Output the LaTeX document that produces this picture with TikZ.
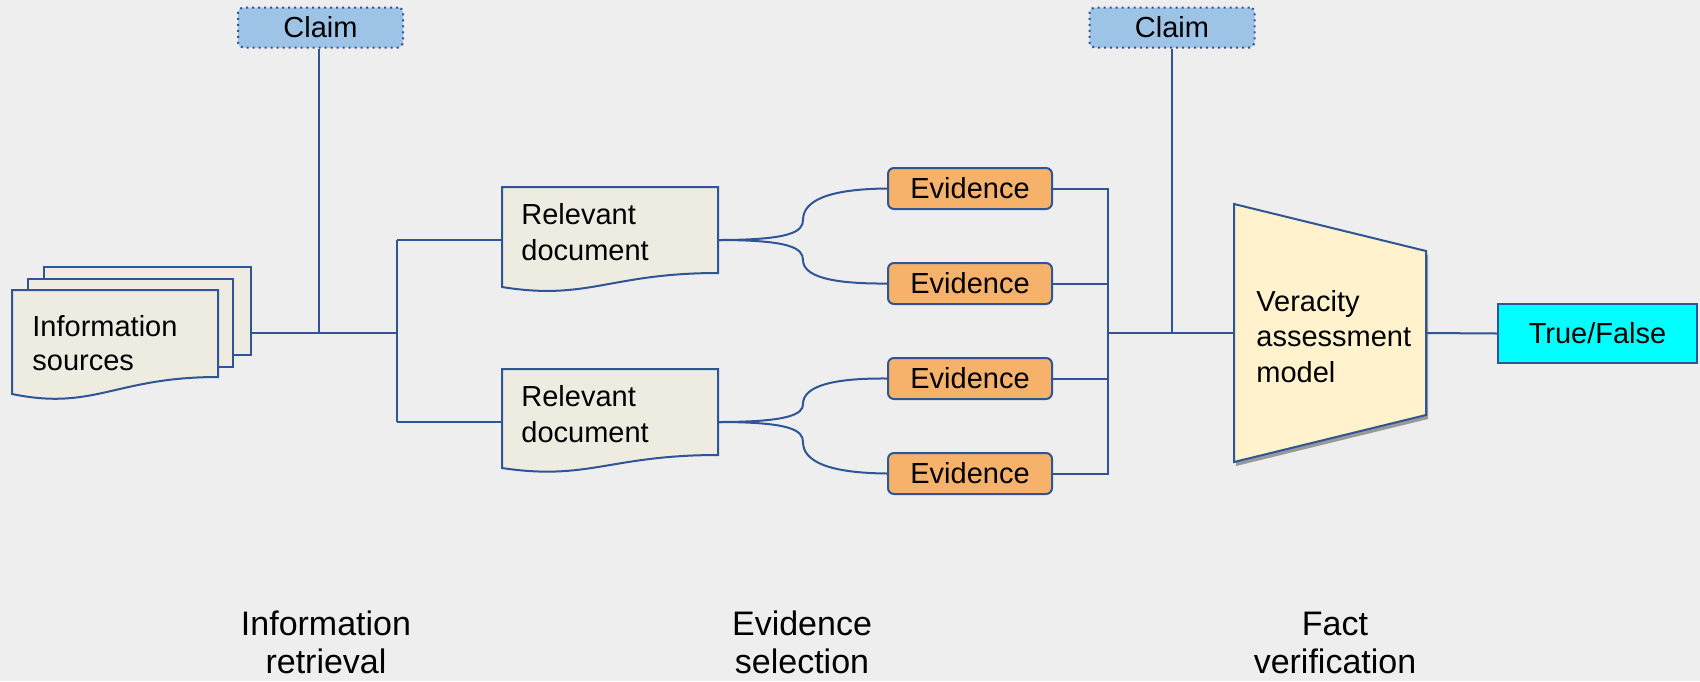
\documentclass[tikz,border=0pt]{standalone}
\usepackage{fontspec}
\setmainfont{Liberation Sans}
\definecolor{bg}{HTML}{EEEEEE}
\definecolor{ln}{HTML}{2F5597}
\definecolor{docfill}{HTML}{EEECE1}
\definecolor{claimfill}{HTML}{9DC3E6}
\definecolor{evfill}{HTML}{F6B26B}
\definecolor{trapfill}{HTML}{FFF2CC}
\definecolor{tffill}{HTML}{00FFFF}
\tikzset{
  conn/.style={draw=ln, line width=1pt},
  shapeline/.style={draw=ln, line width=1pt},
  innertext/.style={font=\fontsize{14.5}{17.5}\selectfont, inner sep=0pt},
  claimbox/.style={shapeline, dotted, fill=claimfill, rounded corners=2.5pt, minimum width=82.5pt, minimum height=20pt, innertext},
  evbox/.style={shapeline, fill=evfill, rounded corners=3pt, minimum width=82pt, minimum height=20.5pt, innertext},
  tfbox/.style={shapeline, fill=tffill, minimum width=99.5pt, minimum height=29.5pt, innertext},
  stagelabel/.style={font=\fontsize{17}{19}\selectfont, align=center, inner sep=0pt},
}
\newcommand{\docshape}[5]{% x1 x2 top yr yl
  \path[shapeline, fill=docfill] (#1,#3) -- (#2,#3) -- (#2,#4)
    .. controls ({#1+0.5*(#2-#1)},#4) and ({#1+0.4*(#2-#1)},{#5+(#5-#4)}) .. (#1,#5) -- cycle;}
\begin{document}
\begin{tikzpicture}[x=0.5pt,y=-0.5pt]
\fill[bg] (0,0) rectangle (1700,681);
\useasboundingbox (0,0) rectangle (1700,681);

% Information sources (stack)
\path[shapeline, fill=docfill] (44,267) rectangle (251,355);
\path[shapeline, fill=docfill] (28,279) rectangle (233,367);
\docshape{12}{218}{290}{377}{394}
\node[innertext, align=left, anchor=base west, font=\fontsize{14.5}{17}\selectfont] (info) at (32,370) {Information\\sources};
\coordinate (infoout) at (251,333);

% Claims
\node[claimbox] (claim1) at (320.5,27.5) {Claim};
\node[claimbox] (claim2) at (1172,27.5) {Claim};

% Relevant documents
\docshape{502}{718}{187}{273}{287}
\docshape{502}{718}{369}{455}{468}
\node[innertext, align=left, anchor=base west, font=\fontsize{14.5}{18}\selectfont] (doc1) at (521,260) {Relevant\\document};
\node[innertext, align=left, anchor=base west, font=\fontsize{14.5}{18}\selectfont] (doc2) at (521,442) {Relevant\\document};
\coordinate (doc1in) at (502,240);
\coordinate (doc2in) at (502,422);
\coordinate (doc1out) at (718,240);
\coordinate (doc2out) at (718,422);

% Evidence
\node[evbox] (ev1) at (970,188.5) {Evidence};
\node[evbox] (ev2) at (970,283.5) {Evidence};
\node[evbox] (ev3) at (970,378.5) {Evidence};
\node[evbox] (ev4) at (970,473.5) {Evidence};

% Veracity model (trapezoid)
\fill[gray!80] (1236,208) -- (1428,255) -- (1428,419) -- (1236,466) -- cycle;
\path[shapeline, fill=trapfill] (1234,204) -- (1426,251) -- (1426,415) -- (1234,462) -- cycle;
\node[innertext, align=left, anchor=base west, font=\fontsize{14.5}{17.75}\selectfont] (model) at (1256,382) {Veracity\\assessment\\model};
\coordinate (modelin) at (1234,333);
\coordinate (modelout) at (1426,333);

% Output
\node[tfbox] (tf) at (1597.5,333.5) {True/False};

% Junctions
\coordinate (j1) at (319,333);
\coordinate (j2) at (397,333);
\coordinate (j2a) at (397,240);
\coordinate (j2b) at (397,422);
\coordinate (j3) at (1108,333);
\coordinate (j4) at (1172,333);

% Connectors: information retrieval
\draw[conn] (infoout) -- (j2);
\draw[conn] (claim1.south -| j1) -- (j1);
\draw[conn] (j2a) -- (j2b);
\draw[conn] (j2a) -- (doc1in);
\draw[conn] (j2b) -- (doc2in);

% Connectors: evidence selection
\draw[conn] (doc1out) .. controls (790,240) and (803,232) .. (803,220) .. controls (803,200) and (830,189) .. (ev1.west);
\draw[conn] (doc1out) .. controls (790,240) and (803,248) .. (803,260) .. controls (803,276) and (830,284) .. (ev2.west);
\draw[conn] (doc2out) .. controls (790,422) and (803,414) .. (803,404) .. controls (803,387) and (830,378) .. (ev3.west);
\draw[conn] (doc2out) .. controls (790,422) and (803,430) .. (803,442) .. controls (803,462) and (830,473) .. (ev4.west);

% Connectors: fact verification
\draw[conn] (ev1.east) -- (ev1.east -| j3) -- (ev4.east -| j3) -- (ev4.east);
\draw[conn] (ev2.east) -- (ev2.east -| j3);
\draw[conn] (ev3.east) -- (ev3.east -| j3);
\draw[conn] (j3) -- (modelin);
\draw[conn] (claim2.south) -- (j4);
\draw[conn] (modelout) -- (tf.west);

% Stage labels
\node[stagelabel, anchor=base] (s1) at (326,673) {Information\\retrieval};
\node[stagelabel, anchor=base] (s2) at (802,673) {Evidence\\selection};
\node[stagelabel, anchor=base] (s3) at (1335,673) {Fact\\verification};
\end{tikzpicture}
\end{document}
